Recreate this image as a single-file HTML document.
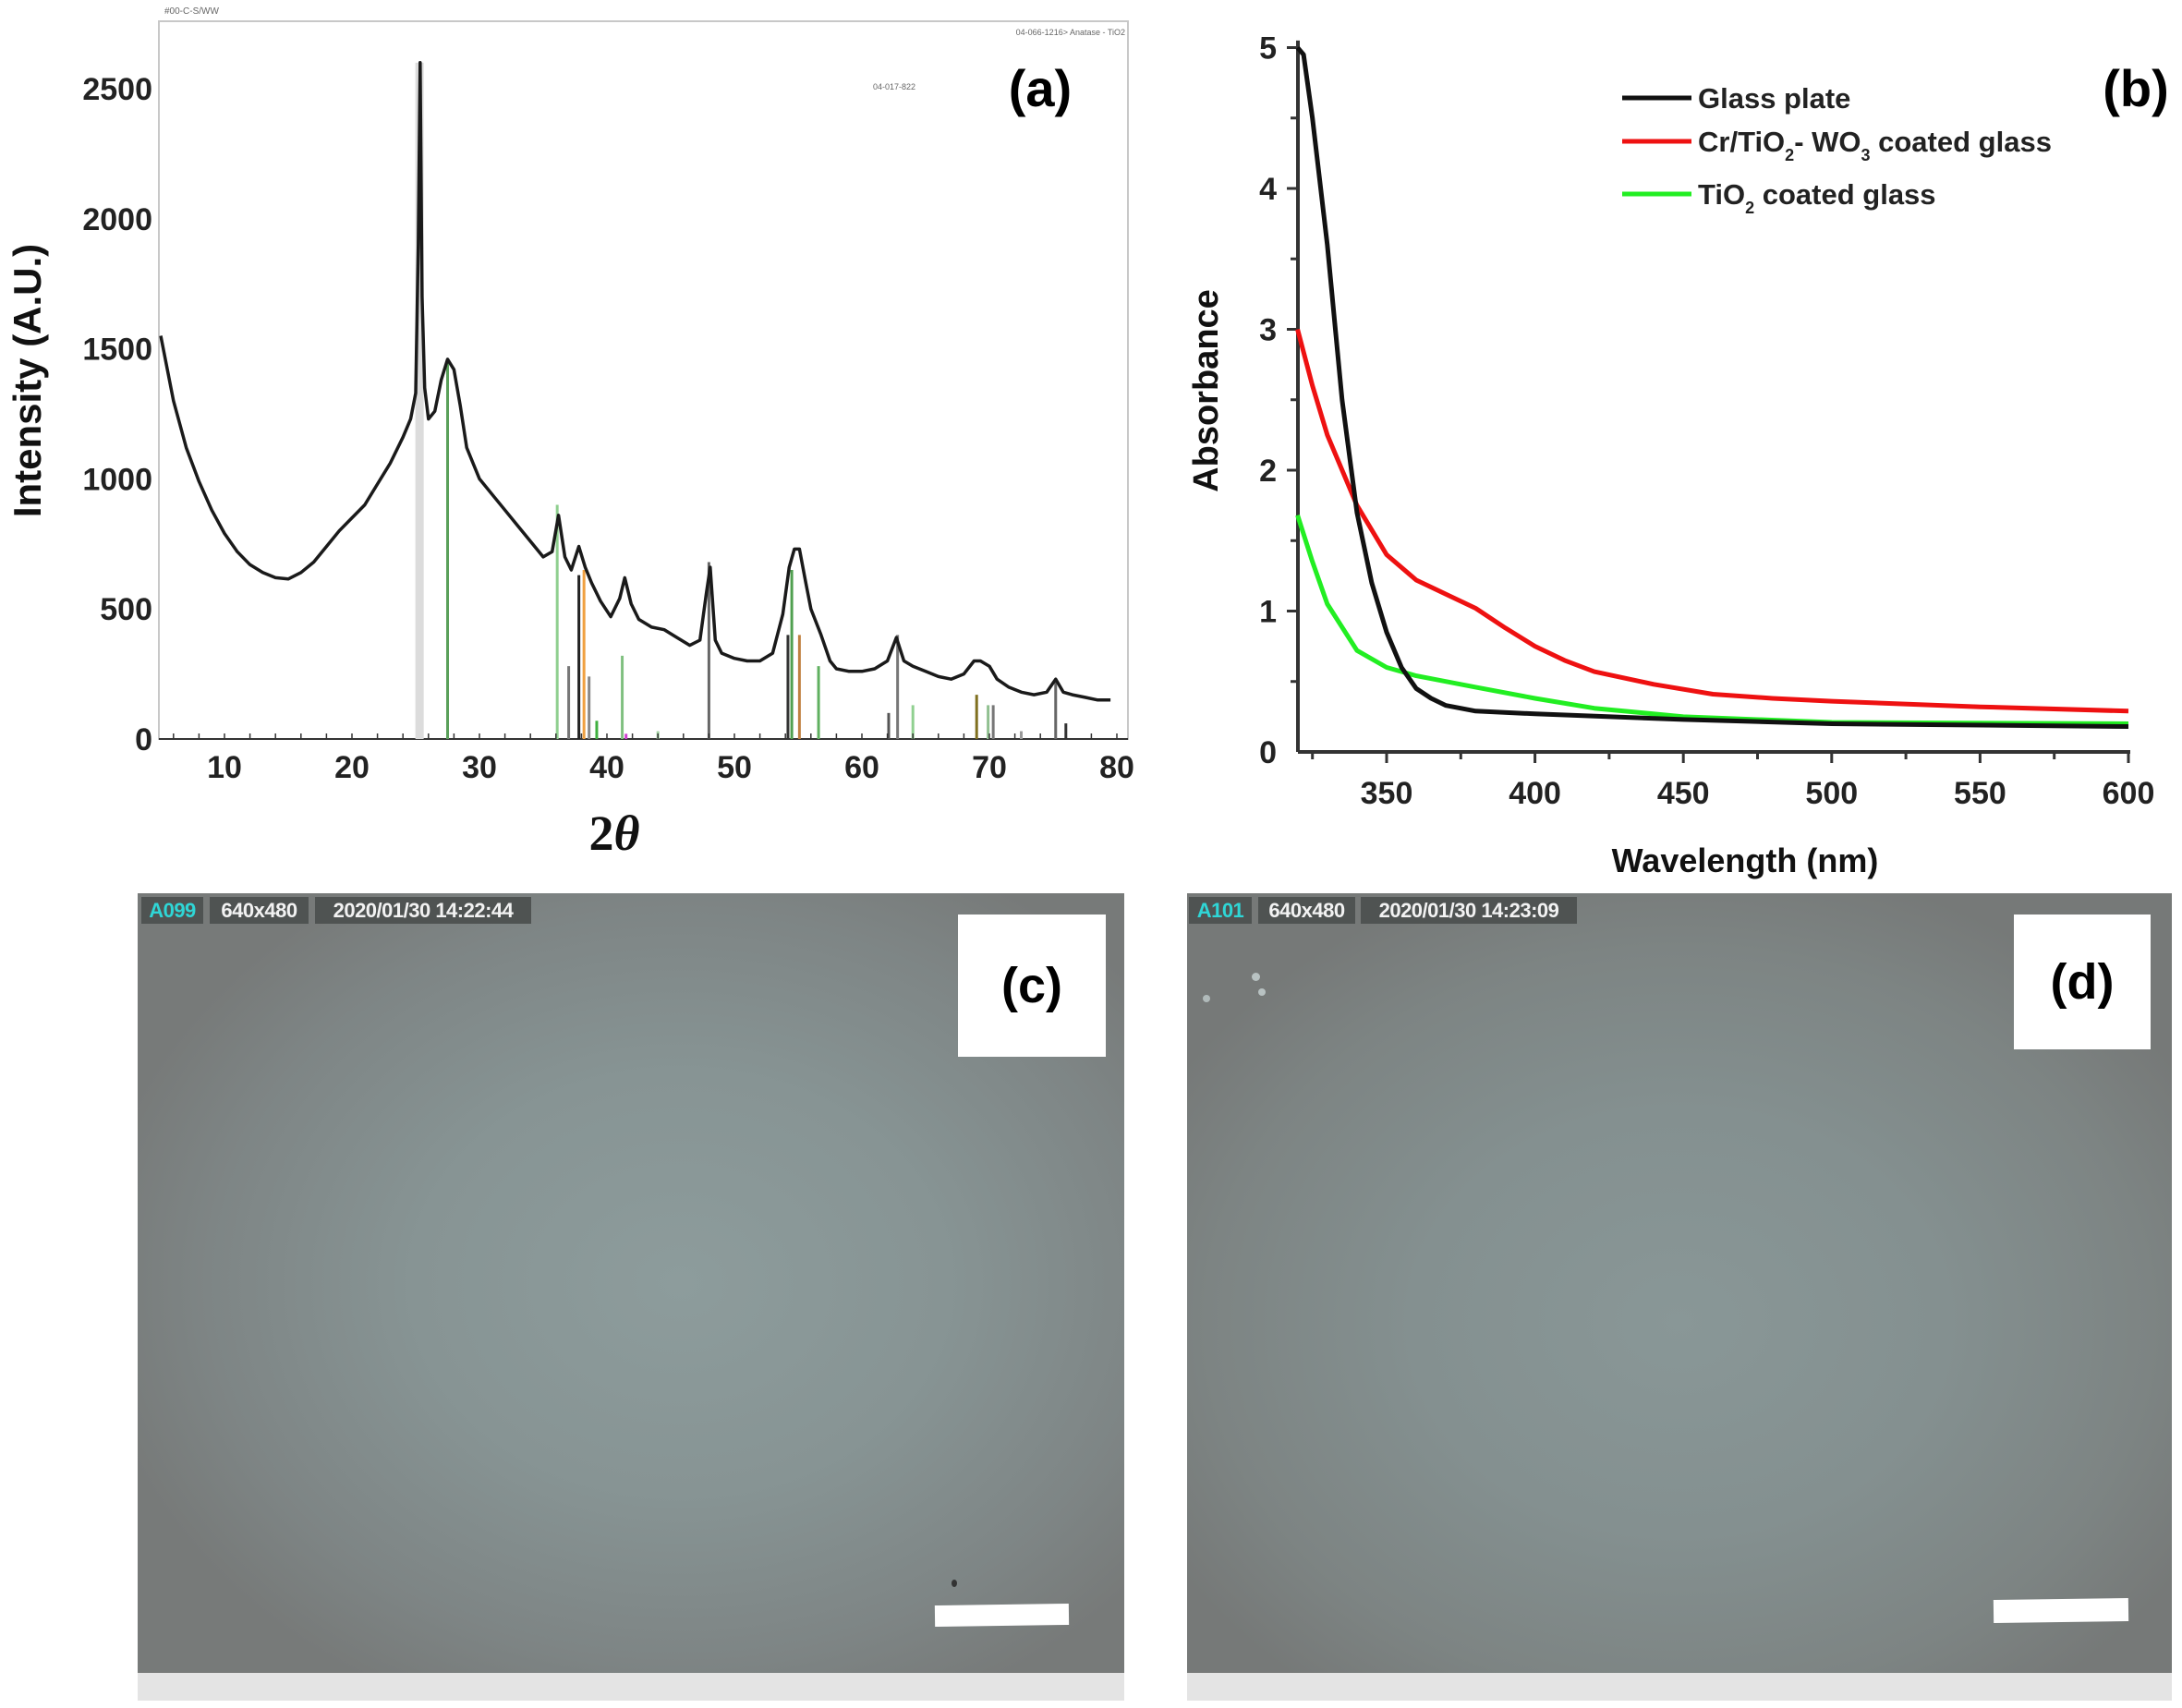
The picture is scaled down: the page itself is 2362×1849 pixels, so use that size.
<!DOCTYPE html>
<html><head><meta charset="utf-8">
<style>
html,body{margin:0;padding:0;background:#fff;}
body{width:2362px;height:1849px;position:relative;overflow:hidden;font-family:"Liberation Sans",sans-serif;}
svg{position:absolute;left:0;top:0;}
.photo{position:absolute;}
.hdr{position:absolute;top:971px;height:29px;background:#4f5352;color:#f2f2f2;font:bold 22px "Liberation Sans",sans-serif;line-height:29px;text-align:center;letter-spacing:-0.5px;}
.lbl{position:absolute;background:#fff;font:bold 54px "Liberation Sans",sans-serif;display:flex;align-items:center;justify-content:center;color:#000;}
.bar{position:absolute;background:#fff;}
</style></head><body>
<div class="photo" style="left:149px;top:967px;width:1068px;height:844px;background:radial-gradient(ellipse 60% 60% at 55% 50%,#8d9c9c 0%,#879494 45%,#7e8585 80%,#777a79 100%);"></div>
<div class="photo" style="left:149px;top:1811px;width:1068px;height:30px;background:#e4e4e4;"></div>
<div class="photo" style="left:1285px;top:967px;width:1066px;height:844px;background:radial-gradient(ellipse 60% 60% at 50% 55%,#899797 0%,#849090 45%,#7d8483 80%,#767978 100%);"></div>
<div class="photo" style="left:1285px;top:1811px;width:1066px;height:30px;background:#e4e4e4;"></div>

<div class="hdr" style="left:153px;width:67px;color:#2fd6d6;">A099</div>
<div class="hdr" style="left:227px;width:107px;">640x480</div>
<div class="hdr" style="left:341px;width:234px;">2020/01/30 14:22:44</div>
<div class="hdr" style="left:1287px;width:68px;color:#2fd6d6;">A101</div>
<div class="hdr" style="left:1362px;width:105px;">640x480</div>
<div class="hdr" style="left:1473px;width:234px;">2020/01/30 14:23:09</div>

<div class="lbl" style="left:1037px;top:990px;width:160px;height:154px;">(c)</div>
<div class="lbl" style="left:2180px;top:990px;width:148px;height:146px;">(d)</div>
<div class="bar" style="left:1012px;top:1737px;width:145px;height:23px;transform:rotate(-0.8deg);"></div>
<div class="bar" style="left:2158px;top:1731px;width:146px;height:25px;transform:rotate(-0.8deg);"></div>
<div style="position:absolute;left:1030px;top:1710px;width:6px;height:8px;border-radius:50%;background:#333;"></div>
<div style="position:absolute;left:1355px;top:1053px;width:9px;height:9px;border-radius:50%;background:#b8c2c2;"></div>
<div style="position:absolute;left:1362px;top:1070px;width:8px;height:8px;border-radius:50%;background:#b8c2c2;"></div>
<div style="position:absolute;left:1302px;top:1077px;width:8px;height:8px;border-radius:50%;background:#b0baba;"></div>

<svg id="chart" width="2362" height="1849" xmlns="http://www.w3.org/2000/svg"></svg>

<script>
// ---------- Panel (a) XRD data ----------
const xrdTheta = [5,6,7,8,9,10,11,12,13,14,15,16,17,18,19,20,21,22,23,24,24.6,25.0,25.2,25.35,25.5,25.7,26.0,26.5,27.0,27.5,28.0,28.5,29,30,31,32,33,34,35,35.7,36.2,36.7,37.2,37.8,38.3,38.8,39.5,40.3,41,41.4,41.9,42.5,43.5,44.5,45.5,46.5,47.3,47.8,48.1,48.5,49,50,51,52,53,53.8,54.3,54.7,55.1,55.6,56,56.8,57.5,58,59,60,61,62,62.7,63.3,64,65,66,67,68,68.8,69.3,70,70.6,71.5,72.5,73.5,74.5,75.2,75.8,76.5,77.5,78.5,79.5,80.5];
const xrdInt = [1550,1300,1120,990,880,790,720,670,640,620,615,640,680,740,800,850,900,980,1060,1160,1230,1330,1900,2600,1700,1350,1230,1260,1380,1460,1420,1280,1120,1000,940,880,820,760,700,720,860,700,650,740,660,600,530,470,540,620,520,460,430,420,390,360,380,560,660,380,330,310,300,300,330,480,660,730,730,600,500,400,300,270,260,260,270,300,390,300,280,260,240,230,250,300,300,280,230,200,180,170,180,230,180,170,160,150,150];
const stickPos = [25.3,27.5,36.1,37.0,37.8,38.2,38.6,39.2,41.2,41.5,44.0,48.0,54.2,54.5,55.1,56.6,62.1,62.8,64.0,69.0,69.9,70.3,72.5,75.2,76.0];
const stickInt = [2600,1450,900,280,630,650,240,70,320,20,30,680,400,650,400,280,100,400,130,170,130,130,30,230,60];
const stickCol = ["#dcdcdc","#5aa05a","#8fcf8f","#777","#222","#f0a040","#888","#40b040","#80c080","#d040d0","#9fd09f","#666","#333","#50a050","#c08040","#60b060","#555","#777","#90d090","#807020","#90c090","#777","#999","#666","#333"];
const xTicksA = [10,20,30,40,50,60,70,80];
const yTicksA = [0,500,1000,1500,2000,2500];

// ---------- Panel (b) UV-vis data ----------
const wlGlass = [320,322,325,330,335,340,345,350,355,360,365,370,380,400,450,500,600];
const absGlass = [5,4.95,4.5,3.6,2.5,1.7,1.2,0.85,0.6,0.45,0.38,0.33,0.29,0.27,0.23,0.2,0.18];
const wlCr = [320,325,330,340,350,360,370,380,390,400,410,420,440,460,480,500,550,600];
const absCr = [3.0,2.6,2.25,1.75,1.4,1.22,1.12,1.02,0.88,0.75,0.65,0.57,0.48,0.41,0.38,0.36,0.32,0.29];
const wlTi = [320,325,330,340,350,360,380,400,420,450,500,600];
const absTi = [1.68,1.35,1.05,0.72,0.6,0.54,0.46,0.38,0.31,0.25,0.21,0.2];
const xTicksB = [350,400,450,500,550,600];
const yTicksB = [0,1,2,3,4,5];

const NS="http://www.w3.org/2000/svg";
const svg=document.getElementById('chart');
function mk(tag,attrs,parent){const e=document.createElementNS(NS,tag);for(const k in attrs)e.setAttribute(k,attrs[k]);(parent||svg).appendChild(e);return e;}

// ---- axes (a)
const AL=172,AR=1221,AT=23,AB=800;
const xa=v=>243+(v-10)*(1209-243)/70;
const ya=v=>800-v*(800-96)/2500;
const ga=mk('g',{});


const frame=mk('rect',{x:AL,y:AT,width:AR-AL,height:AB-AT,fill:'none',stroke:'#c8c8c8','stroke-width':2},ga);


mk('line',{x1:AL,y1:AB,x2:AR,y2:AB,stroke:'#333','stroke-width':2},ga);
for(let i=0;i<stickPos.length;i++){
  const l=mk('line',{x1:xa(stickPos[i]),x2:xa(stickPos[i]),y1:ya(0),y2:ya(stickInt[i]),stroke:stickCol[i],'stroke-width':i===0?9:3},ga);
  
  
}
let d='';
for(let i=0;i<xrdTheta.length;i++){d+=(i?'L':'M')+xa(xrdTheta[i]).toFixed(1)+' '+ya(xrdInt[i]).toFixed(1);}
const xrdLine=mk('path',{d:d,fill:'none',stroke:'#1a1a1a','stroke-width':3.5,'stroke-linejoin':'round'},ga);


for(let v=6;v<=80;v+=2){mk('line',{x1:xa(v),x2:xa(v),y1:AB,y2:AB-6,stroke:'#333','stroke-width':1.5},ga);}
xTicksA.forEach(v=>{
  const t=mk('text',{x:xa(v),y:842,'text-anchor':'middle','font-size':34,'font-weight':'bold',fill:'#222','font-family':'Liberation Sans, sans-serif'},ga);
  t.textContent=v;
  
  
});
yTicksA.forEach(v=>{
  const t=mk('text',{x:165,y:ya(v)+12,'text-anchor':'end','font-size':34,'font-weight':'bold',fill:'#222','font-family':'Liberation Sans, sans-serif'},ga);
  t.textContent=v;
  
  
});
let t=mk('text',{x:0,y:0,transform:'translate(44,412) rotate(-90)','text-anchor':'middle','font-size':42,'font-weight':'bold',fill:'#111'},ga);
t.textContent='Intensity (A.U.)';


t=mk('text',{x:665,y:920,'text-anchor':'middle','font-size':54,'font-weight':'bold',fill:'#111','font-family':'Liberation Serif, serif'},ga);
t.innerHTML='2<tspan font-style="italic">θ</tspan>';


t=mk('text',{x:1126,y:115,'text-anchor':'middle','font-size':56,'font-weight':'bold',fill:'#000'},ga);
t.textContent='(a)';


t=mk('text',{x:178,y:15,'font-size':10,fill:'#666'},ga);
t.textContent='#00-C-S/WW';


t=mk('text',{x:1218,y:38,'text-anchor':'end','font-size':9,fill:'#666'},ga);
t.textContent='04-066-1216> Anatase - TiO2';


t=mk('text',{x:945,y:97,'font-size':9,fill:'#666'},ga);
t.textContent='04-017-822';



// ---- axes (b)
const BL=1405,BR=2306,BB=814;
const xb=v=>1501+(v-350)*(2304-1501)/250;
const yb=v=>814-v*152.5;
const gb=mk('g',{});


mk('line',{x1:BL,y1:yb(5.05),x2:BL,y2:BB,stroke:'#333','stroke-width':4},gb);
mk('line',{x1:BL,y1:BB,x2:BR,y2:BB,stroke:'#333','stroke-width':4},gb);
for(let v=325;v<=600;v+=25){mk('line',{x1:xb(v),x2:xb(v),y1:BB,y2:BB+(v%50===0?12:8),stroke:'#333','stroke-width':3},gb);}
for(let v=0.5;v<=5;v+=0.5){mk('line',{x1:BL,x2:BL-(v%1===0?12:8),y1:yb(v),y2:yb(v),stroke:'#333','stroke-width':3},gb);}
xTicksB.forEach(v=>{
  const tt=mk('text',{x:xb(v),y:870,'text-anchor':'middle','font-size':34,'font-weight':'bold',fill:'#222'},gb);
  tt.textContent=v;
  
  
});
yTicksB.forEach(v=>{
  const tt=mk('text',{x:1382,y:yb(v)+12,'text-anchor':'end','font-size':34,'font-weight':'bold',fill:'#222'},gb);
  tt.textContent=v;
  
  
});
function series(xs,ys,col,name){
  let p='';
  for(let i=0;i<xs.length;i++){p+=(i?'L':'M')+xb(xs[i]).toFixed(1)+' '+yb(ys[i]).toFixed(1);}
  const e=mk('path',{d:p,fill:'none',stroke:col,'stroke-width':5,'stroke-linejoin':'round'},gb);
  
  
}
series(wlTi,absTi,'#22ee22','series-tio2-coated');
series(wlCr,absCr,'#ee1111','series-cr-tio2-wo3');
series(wlGlass,absGlass,'#111','series-glass-plate');
t=mk('text',{x:0,y:0,transform:'translate(1318,423) rotate(-90)','text-anchor':'middle','font-size':38,'font-weight':'bold',fill:'#111'},gb);
t.textContent='Absorbance';


t=mk('text',{x:1889,y:944,'text-anchor':'middle','font-size':36,'font-weight':'bold',fill:'#111'},gb);
t.textContent='Wavelength (nm)';


t=mk('text',{x:2312,y:115,'text-anchor':'middle','font-size':56,'font-weight':'bold',fill:'#000'},gb);
t.textContent='(b)';


const legCols=['#111','#ee1111','#22ee22'];
const legY=[106,153,210];
const legTxt=['Glass plate','Cr/TiO<tspan baseline-shift="sub" font-size="18">2</tspan>- WO<tspan baseline-shift="sub" font-size="18">3</tspan> coated glass',' TiO<tspan baseline-shift="sub" font-size="18">2</tspan> coated glass'];
for(let i=0;i<3;i++){
  const le=mk('g',{},gb);
  
  
  mk('line',{x1:1756,x2:1831,y1:legY[i],y2:legY[i],stroke:legCols[i],'stroke-width':5},le);
  const lt=mk('text',{x:1838,y:legY[i]+11,'font-size':31,'font-weight':'bold',fill:'#222'},le);
  lt.innerHTML=legTxt[i];
}
</script>
</body></html>
